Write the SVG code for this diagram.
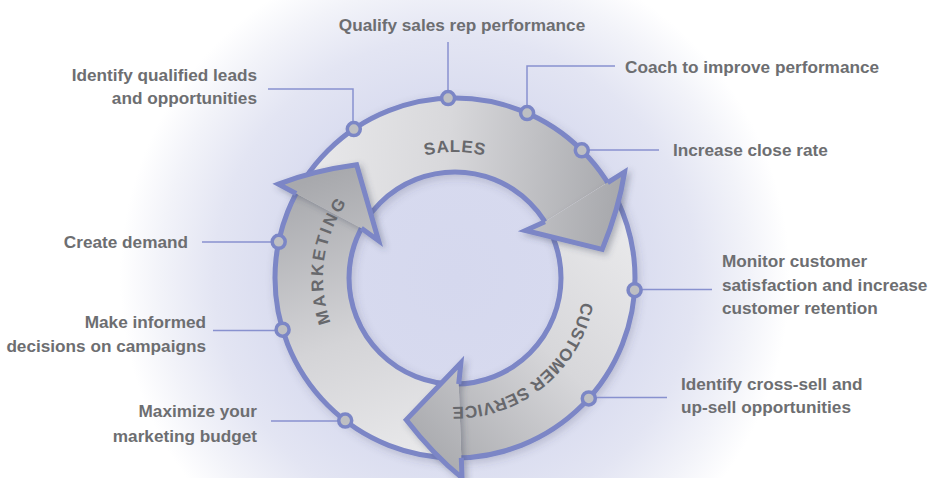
<svg xmlns="http://www.w3.org/2000/svg" width="931" height="478" viewBox="0 0 931 478">
<defs>
<style>
.lbl{font-family:"Liberation Sans",Arial,sans-serif;font-weight:bold;font-size:17.2px;fill:#6d6e71}
.band{font-family:"Liberation Sans",Arial,sans-serif;font-weight:bold;font-size:17px;fill:#67686c}
.lead{fill:none;stroke:#8891cf;stroke-width:1.5}
.dot{fill:#bebfc3;stroke:#7b86c6;stroke-width:3.5}
.ringline{fill:none;stroke:#7b86c6;stroke-width:5}
.head{stroke:#7b86c6;stroke-width:5;stroke-linejoin:miter;stroke-miterlimit:10}
</style>
<radialGradient id="glow" gradientUnits="userSpaceOnUse" cx="455" cy="278" r="335">
<stop offset="0" stop-color="#d5d8ee"/>
<stop offset="0.5" stop-color="#d8dbef"/>
<stop offset="0.72" stop-color="#e3e5f3"/>
<stop offset="0.88" stop-color="#f2f3f9"/>
<stop offset="1" stop-color="#ffffff"/>
</radialGradient>
<linearGradient id="gSales" gradientUnits="userSpaceOnUse" x1="300" y1="180" x2="615" y2="215">
<stop offset="0" stop-color="#e9e9eb"/>
<stop offset="0.45" stop-color="#d8d8db"/>
<stop offset="1" stop-color="#a8a9ad"/>
</linearGradient>
<linearGradient id="gCS" gradientUnits="userSpaceOnUse" x1="625" y1="235" x2="410" y2="445">
<stop offset="0" stop-color="#e8e8ea"/>
<stop offset="0.45" stop-color="#d7d7da"/>
<stop offset="1" stop-color="#a8a9ad"/>
</linearGradient>
<linearGradient id="gMkt" gradientUnits="userSpaceOnUse" x1="425" y1="455" x2="325" y2="175">
<stop offset="0" stop-color="#e9e9eb"/>
<stop offset="0.45" stop-color="#d4d4d7"/>
<stop offset="1" stop-color="#a8a9ad"/>
</linearGradient>
<filter id="shadow" x="-20%" y="-20%" width="140%" height="140%">
<feDropShadow dx="3" dy="3" stdDeviation="3" flood-color="#3c3f5a" flood-opacity="0.35"/>
</filter>
<filter id="soft" x="-10%" y="-10%" width="120%" height="120%">
<feDropShadow dx="2" dy="3" stdDeviation="4" flood-color="#3c3f5a" flood-opacity="0.22"/>
</filter>
<path id="pSales" d="M 336.6 234.9 A 126 126 0 0 1 573.4 234.9"/>
<path id="pMkt" d="M 373.7 382.0 A 132 132 0 0 1 405.6 155.6"/>
<path id="pCS" d="M 582.4 257.8 A 129 129 0 0 1 408.8 398.4"/>
</defs>

<g id="background">
<rect x="0" y="0" width="931" height="478" fill="#ffffff"/>
<rect x="0" y="0" width="931" height="478" fill="url(#glow)"/>
</g>

<g id="ring" filter="url(#soft)">
<path fill="url(#gSales)" d="M 296.1 193.5 A 180 180 0 0 1 607.6 182.6 L 544.9 221.8 A 106 106 0 0 0 361.4 228.2 Z"/>
<path fill="url(#gCS)" d="M 607.6 182.6 A 180 180 0 0 1 461.3 457.9 L 458.7 383.9 A 106 106 0 0 0 544.9 221.8 Z"/>
<path fill="url(#gMkt)" d="M 461.3 457.9 A 180 180 0 0 1 296.1 193.5 L 361.4 228.2 A 106 106 0 0 0 458.7 383.9 Z"/>
<circle class="ringline" cx="455" cy="278" r="180"/>
<circle class="ringline" cx="455" cy="278" r="106"/>
</g>

<g id="arrow-sales">
<path class="head" fill="url(#gSales)" filter="url(#shadow)" d="M 607.6 182.6 L 624.6 172.0 Q 619 208.6 602.2 249.4 L 525.5 230.5 L 544.9 221.8"/>
<text class="band" letter-spacing="0.8"><textPath href="#pSales" startOffset="50%" text-anchor="middle">SALES</textPath></text>
</g>

<g id="arrow-customer-service">
<path class="head" fill="url(#gCS)" filter="url(#shadow)" d="M 461.3 457.9 L 462.0 477.9 Q 433.3 454.8 406.2 419.8 L 460.9 362.8 L 458.7 383.9"/>
<text class="band" letter-spacing="0.3"><textPath href="#pCS" startOffset="50%" text-anchor="middle">CUSTOMER SERVICE</textPath></text>
</g>

<g id="arrow-marketing">
<path class="head" fill="url(#gMkt)" filter="url(#shadow)" d="M 296.1 193.5 L 278.4 184.1 Q 312.8 170.8 356.6 164.8 L 378.6 240.7 L 361.4 228.2"/>
<text class="band" letter-spacing="2.8"><textPath href="#pMkt" startOffset="50%" text-anchor="middle">MARKETING</textPath></text>
</g>

<g id="connectors">
<path class="lead" d="M 448 42 V 95"/>
<path class="lead" d="M 615 66 H 527 V 110"/>
<path class="lead" d="M 582 150 H 659"/>
<path class="lead" d="M 268 89 H 353 V 125"/>
<path class="lead" d="M 202 242 H 279"/>
<path class="lead" d="M 213 330.5 H 282"/>
<path class="lead" d="M 271 421 H 345"/>
<path class="lead" d="M 634 289.5 H 712"/>
<path class="lead" d="M 589 397.5 H 667"/>
</g>

<g id="n-qualify"><circle class="dot" cx="448.1" cy="98.1" r="6.5"/><text class="lbl" x="462" y="31" text-anchor="middle">Qualify sales rep performance</text></g>
<g id="n-coach"><circle class="dot" cx="527.1" cy="113.1" r="6.5"/><text class="lbl" x="625" y="73">Coach to improve performance</text></g>
<g id="n-close-rate"><circle class="dot" cx="581.8" cy="150.3" r="6.5"/><text class="lbl" x="673" y="156">Increase close rate</text></g>
<g id="n-leads"><circle class="dot" cx="353.8" cy="129.1" r="6.5"/><text class="lbl" text-anchor="end"><tspan x="257" y="81">Identify qualified leads</tspan><tspan x="257" y="104">and opportunities</tspan></text></g>
<g id="n-demand"><circle class="dot" cx="278.7" cy="241.8" r="6.5"/><text class="lbl" x="188" y="248" text-anchor="end">Create demand</text></g>
<g id="n-informed"><circle class="dot" cx="282.6" cy="329.7" r="6.5"/><text class="lbl" text-anchor="end"><tspan x="206" y="328">Make informed</tspan><tspan x="206" y="352">decisions on campaigns</tspan></text></g>
<g id="n-budget"><circle class="dot" cx="345.2" cy="420.6" r="6.5"/><text class="lbl" text-anchor="end"><tspan x="257" y="417">Maximize your</tspan><tspan x="257" y="442">marketing budget</tspan></text></g>
<g id="n-retention"><circle class="dot" cx="634.6" cy="290.2" r="6.5"/><text class="lbl"><tspan x="722" y="267">Monitor customer</tspan><tspan x="722" y="291">satisfaction and increase</tspan><tspan x="722" y="314">customer retention</tspan></text></g>
<g id="n-crosssell"><circle class="dot" cx="588.8" cy="398.4" r="6.5"/><text class="lbl"><tspan x="681" y="390">Identify cross-sell and</tspan><tspan x="681" y="413">up-sell opportunities</tspan></text></g>
</svg>
